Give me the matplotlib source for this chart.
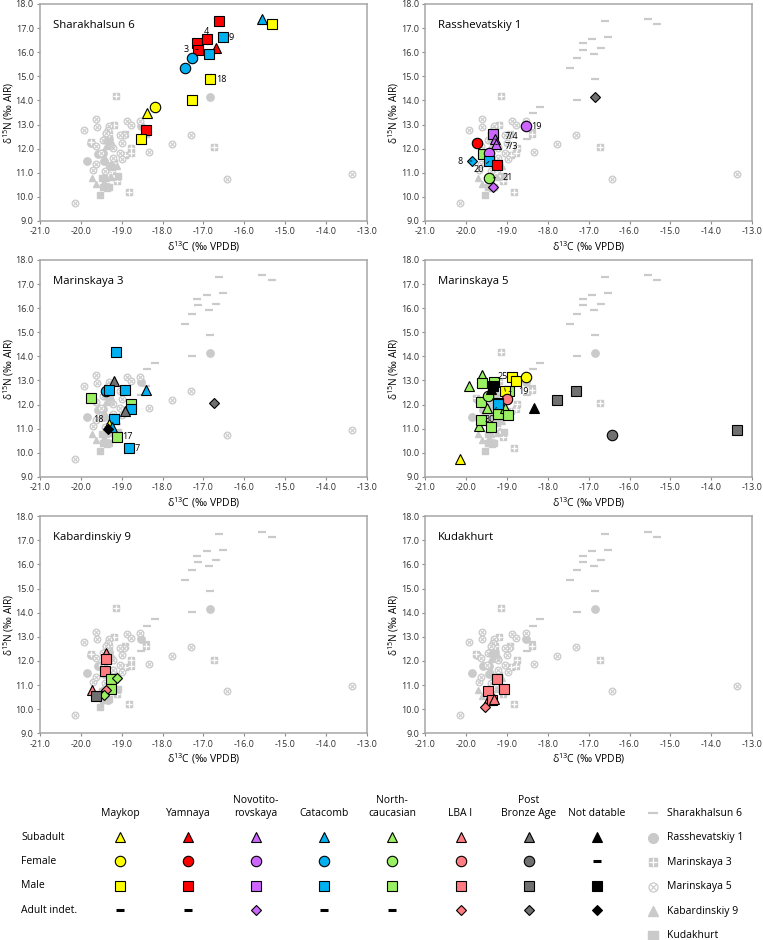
import matplotlib
matplotlib.use("Agg")
import matplotlib.pyplot as plt

plt.rcParams['font.family'] = ['Open Sans', 'DejaVu Sans']
plt.rcParams['mathtext.fontset'] = 'custom'
plt.rcParams['mathtext.rm'] = 'Open Sans'
plt.rcParams['mathtext.it'] = 'Open Sans'

# ---- data (d13C, d15N, culture, category) ----
shar_x = [-16.61, -15.56, -15.33, -17.15, -16.92, -16.53, -17.13, -16.69, -16.87, -17.28, -17.46, -16.84, -17.29, -18.18, -18.37, -18.40, -18.52]
shar_y = [17.28, 17.36, 17.16, 16.37, 16.54, 16.62, 16.11, 16.18, 15.94, 15.76, 15.35, 14.88, 14.02, 13.72, 13.46, 12.79, 12.41]
shar_cult = ['YAM', 'CAT', 'MAY', 'YAM', 'YAM', 'CAT', 'YAM', 'YAM', 'CAT', 'CAT', 'CAT', 'MAY', 'MAY', 'MAY', 'MAY', 'YAM', 'MAY']
shar_cat = ['male', 'sub', 'male', 'male', 'male', 'male', 'male', 'sub', 'male', 'fem', 'fem', 'male', 'male', 'fem', 'sub', 'male', 'male']

rass_x = [-16.85, -18.53, -19.34, -19.30, -19.28, -19.74, -19.59, -19.45, -19.86, -19.44, -19.24, -19.44, -19.34]
rass_y = [14.15, 12.92, 12.61, 12.39, 12.18, 12.25, 11.78, 11.80, 11.49, 11.47, 11.34, 10.78, 10.40]
rass_cult = ['PBA', 'NOV', 'NOV', 'NOV', 'NOV', 'YAM', 'NC', 'NOV', 'CAT', 'CAT', 'YAM', 'NC', 'NOV']
rass_cat = ['ind', 'fem', 'male', 'sub', 'sub', 'fem', 'male', 'fem', 'ind', 'male', 'male', 'fem', 'ind']

mar3_x = [-19.14, -19.20, -19.38, -19.30, -18.93, -18.40, -19.75, -16.73, -18.76, -18.77, -18.91, -19.19, -19.31, -19.24, -19.33, -19.11, -18.82]
mar3_y = [14.20, 12.98, 12.55, 12.61, 12.62, 12.62, 12.29, 12.05, 12.02, 11.81, 11.73, 11.40, 11.18, 11.08, 10.99, 10.64, 10.20]
mar3_cult = ['CAT', 'PBA', 'CAT', 'CAT', 'CAT', 'CAT', 'NC', 'PBA', 'NC', 'CAT', 'PBA', 'CAT', 'MAY', 'CAT', 'ND', 'NC', 'CAT']
mar3_cat = ['male', 'sub', 'fem', 'male', 'male', 'sub', 'male', 'ind', 'male', 'male', 'sub', 'male', 'sub', 'sub', 'ind', 'male', 'male']

mar5_x = [-20.14, -19.93, -19.62, -19.60, -19.64, -19.46, -19.50, -19.69, -19.64, -19.40, -19.21, -19.04, -18.98, -18.95, -19.32,
          -19.34, -19.39, -18.33, -18.88, -18.78, -19.04, -18.54, -18.99, -19.23, -19.21, -17.78, -17.30, -16.42, -13.37]
mar5_y = [9.76, 12.79, 13.22, 12.91, 12.12, 12.35, 11.84, 11.13, 11.35, 11.07, 11.62, 11.84, 11.55, 12.55, 12.92,
          12.76, 12.64, 11.88, 13.13, 12.97, 12.55, 13.16, 12.25, 12.08, 12.03, 12.21, 12.57, 10.74, 10.95]
mar5_cult = ['MAY', 'NC', 'NC', 'NC', 'NC', 'NC', 'NC', 'NC', 'NC', 'NC', 'NC', 'NC', 'NC', 'NC', 'NC',
             'ND', 'ND', 'ND', 'MAY', 'MAY', 'MAY', 'MAY', 'LBA', 'MAY', 'CAT', 'PBA', 'PBA', 'PBA', 'PBA']
mar5_cat = ['sub', 'sub', 'sub', 'male', 'male', 'fem', 'sub', 'sub', 'male', 'male', 'male', 'sub', 'male', 'male', 'male',
            'male', 'sub', 'sub', 'male', 'male', 'male', 'fem', 'fem', 'male', 'male', 'male', 'male', 'fem', 'male']

kab_x = [-19.38, -19.39, -19.40, -19.25, -19.12, -19.25, -19.72, -19.39, -19.44, -19.62]
kab_y = [12.35, 12.09, 11.59, 11.24, 11.30, 10.84, 10.79, 10.78, 10.60, 10.53]
kab_cult = ['LBA', 'LBA', 'LBA', 'NC', 'NC', 'NC', 'LBA', 'LBA', 'NC', 'PBA']
kab_cat = ['sub', 'male', 'male', 'male', 'ind', 'male', 'sub', 'ind', 'ind', 'male']

kud_x = [-19.25, -19.47, -19.08, -19.46, -19.36, -19.31, -19.54]
kud_y = [11.26, 10.77, 10.85, 10.39, 10.36, 10.42, 10.08]
kud_cult = ['LBA', 'LBA', 'LBA', 'LBA', 'LBA', 'LBA', 'LBA']
kud_cat = ['male', 'male', 'male', 'sub', 'male', 'sub', 'ind']

# labels: (text, point x, point y, text x, text y, leader line)
shar_notes = [("4", -16.92, 16.54, -16.92, 16.86, False), ("9", -16.53, 16.62, -16.33, 16.62, False),
              ("3", -17.13, 16.11, -17.43, 16.11, True), ("18", -16.84, 14.88, -16.57, 14.88, False)]
rass_notes = [("19", -18.53, 12.92, -18.28, 12.93, False), ("7/4", -19.30, 12.39, -18.90, 12.50, True),
              ("7/3", -19.28, 12.18, -18.90, 12.10, True), ("8", -19.86, 11.49, -20.14, 11.46, True),
              ("20", -19.44, 11.47, -19.70, 11.12, True), ("21", -19.44, 10.78, -18.98, 10.82, True)]
mar3_notes = [("18", -19.31, 11.18, -19.56, 11.40, True), ("17", -19.11, 10.64, -18.86, 10.67, False),
              ("7", -18.82, 10.20, -18.62, 10.20, False)]
mar5_notes = [("25", -19.04, 12.55, -19.11, 13.16, True), ("19", -18.95, 12.55, -18.60, 12.54, True),
              ("30", -19.21, 12.03, -19.43, 11.38, True)]
kab_notes = []
kud_notes = []

sites = ["Sharakhalsun 6", "Rasshevatskiy 1", "Marinskaya 3", "Marinskaya 5", "Kabardinskiy 9", "Kudakhurt"]
site_x = [shar_x, rass_x, mar3_x, mar5_x, kab_x, kud_x]
site_y = [shar_y, rass_y, mar3_y, mar5_y, kab_y, kud_y]
site_cult = [shar_cult, rass_cult, mar3_cult, mar5_cult, kab_cult, kud_cult]
site_cat = [shar_cat, rass_cat, mar3_cat, mar5_cat, kab_cat, kud_cat]
site_notes = [shar_notes, rass_notes, mar3_notes, mar5_notes, kab_notes, kud_notes]

cultures = ['MAY', 'YAM', 'NOV', 'CAT', 'NC', 'LBA', 'PBA', 'ND']
culture_names = ["Maykop", "Yamnaya", "Novotito-\nrovskaya", "Catacomb", "North-\ncaucasian", "LBA I", "Post\nBronze Age", "Not datable"]
culture_colors = ['#FFFF00', '#FF0000', '#CC66FF', '#00B0F0', '#99F060', '#FF7C80', '#707070', '#000000']
categories = ['sub', 'fem', 'male', 'ind']
category_names = ["Subadult", "Female", "Male", "Adult indet."]
cat_marker = {'sub': '^', 'fem': 'o', 'male': 's', 'ind': 'D'}
cat_size = {'sub': 6.5, 'fem': 7.5, 'male': 6.5, 'ind': 5.5}
# legend grid: True = symbol shown, False = dash
legend_has = {
    'MAY': [True, True, True, False], 'YAM': [True, True, True, False],
    'NOV': [True, True, True, True], 'CAT': [True, True, True, False],
    'NC': [True, True, True, False], 'LBA': [True, True, True, True],
    'PBA': [True, True, True, True], 'ND': [True, False, True, True],
}

GRAY = '#CACACA'


def gray_points(ax, i, x, y, size=4.8):
    if i == 0:
        ax.plot(x, y, ls='none', marker='_', ms=size + 0.5, mew=1.6, color=GRAY, zorder=2)
    elif i == 1:
        ax.plot(x, y, ls='none', marker='o', ms=size + 0.5, mfc=GRAY, mec=GRAY, zorder=2)
    elif i == 2:
        ax.plot(x, y, ls='none', marker='s', ms=size - 0.3, mfc=GRAY, mec=GRAY, zorder=2)
        ax.plot(x, y, ls='none', marker='+', ms=size - 0.3, mew=0.9, color='white', zorder=2)
    elif i == 3:
        ax.plot(x, y, ls='none', marker='o', ms=size, mfc='white', mec=GRAY, mew=0.9, zorder=2)
        ax.plot(x, y, ls='none', marker='x', ms=size - 2.3, mew=0.8, color=GRAY, zorder=2)
    elif i == 4:
        ax.plot(x, y, ls='none', marker='^', ms=size, mfc=GRAY, mec=GRAY, zorder=2)
    else:
        ax.plot(x, y, ls='none', marker='s', ms=size, mfc=GRAY, mec=GRAY, zorder=2)


fig = plt.figure(figsize=(7.63, 9.40), dpi=100)

lefts = [0.0524, 0.5574]
bottoms = [0.7649, 0.4926, 0.2199]
for i, name in enumerate(sites):
    ax = fig.add_axes([lefts[i % 2], bottoms[i // 2], 0.4283, 0.2309])
    for j in range(len(sites)):
        if j != i:
            gray_points(ax, j, site_x[j], site_y[j])
    for k in range(len(site_x[i])):
        c = culture_colors[cultures.index(site_cult[i][k])]
        cat = site_cat[i][k]
        ax.plot(site_x[i][k], site_y[i][k], ls='none', marker=cat_marker[cat], ms=cat_size[cat],
                mfc=c, mec='black', mew=0.8, zorder=3)
    for lab, px, py, tx, ty, line in site_notes[i]:
        if line:
            ax.annotate(lab, xy=(px, py), xytext=(tx, ty), fontsize=6.5, ha='center', va='center',
                        arrowprops=dict(arrowstyle='-', lw=0.6, color='black', shrinkA=3, shrinkB=3), zorder=4)
        else:
            ax.text(tx, ty, lab, fontsize=6.5, ha='center', va='center', zorder=4)
    ax.set_xlim(-21, -13)
    ax.set_ylim(9, 18)
    ax.set_xticks([-21, -20, -19, -18, -17, -16, -15, -14, -13])
    ax.set_yticks([9, 10, 11, 12, 13, 14, 15, 16, 17, 18])
    ax.set_xticklabels(["%.1f" % v for v in ax.get_xticks()])
    ax.set_yticklabels(["%.1f" % v for v in ax.get_yticks()])
    ax.tick_params(labelsize=6.5, length=2.5, width=0.8, color='#8C8C8C', labelcolor='#303030', pad=2)
    for s in ax.spines.values():
        s.set_color('#A6A6A6')
        s.set_linewidth(1.1)
    ax.set_xlabel(r"δ$^{13}$C (‰ VPDB)", fontsize=7.5, labelpad=2)
    ax.set_ylabel(r"δ$^{15}$N (‰ AIR)", fontsize=7.3)
    ax.yaxis.set_label_coords(-0.074, 0.5)
    ax.text(0.04, 0.90, name, transform=ax.transAxes, fontsize=8.2, ha='left', va='center')

# ---- legend (pixel layout) ----
lax = fig.add_axes([0, 0, 1, 1], zorder=-1)
lax.set_xlim(0, 763)
lax.set_ylim(940, 0)
lax.axis('off')

col_x0, col_dx = 120, 68.1
row_y0, row_dy = 837, 24.4
for r, rname in enumerate(category_names):
    lax.text(21, row_y0 + r * row_dy, rname, fontsize=7.5, ha='left', va='center')
for c, cname in enumerate(culture_names):
    cx = col_x0 + c * col_dx
    lax.text(cx, 819, cname, fontsize=7.5, ha='center', va='bottom', multialignment='center', linespacing=1.25)
    for r, cat in enumerate(categories):
        ry = row_y0 + r * row_dy
        if legend_has[cultures[c]][r]:
            lax.plot(cx, ry, ls='none', marker=cat_marker[cat], ms=cat_size[cat], mfc=culture_colors[c],
                     mec='black', mew=0.8)
        else:
            lax.plot(cx, ry, ls='none', marker='_', ms=6, mew=2.2, color='black')

sy0, sdy = 813, 24.6
for j, name in enumerate(sites):
    gray_points(lax, j, [653], [sy0 + j * sdy], size=6.5)
    lax.text(667, sy0 + j * sdy, name, fontsize=7.5, ha='left', va='center')

fig.savefig("out.png", dpi=100)
